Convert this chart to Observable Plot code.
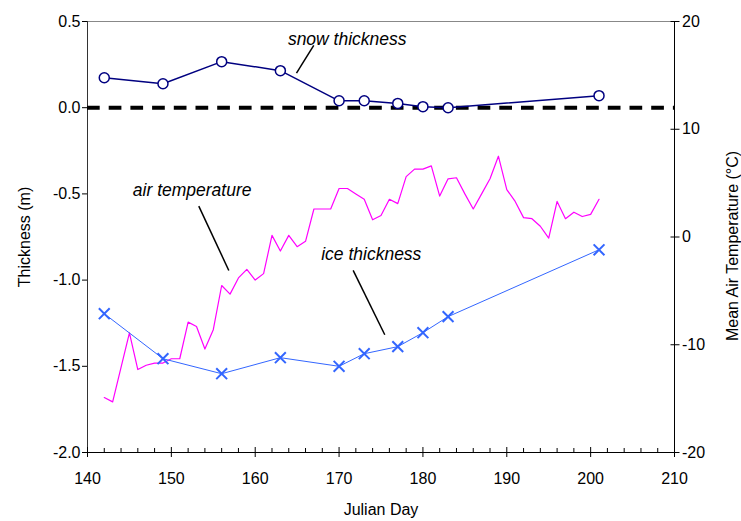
<!DOCTYPE html>
<html><head><meta charset="utf-8">
<script src="https://cdn.jsdelivr.net/npm/d3@7"></script>
<script src="https://cdn.jsdelivr.net/npm/@observablehq/plot@0.6"></script>
<style>body{margin:0;background:#fff}</style>
</head><body><div id="chart"></div>
<script>
// Measurement days (snow & ice)
const measureDays = [142,149,156,163,170,173,177,180,183,201];
const snowThickness = [0.174,0.139,0.267,0.215,0.04,0.04,0.025,0.006,0.0,0.07];
const iceThickness = [-1.195,-1.456,-1.543,-1.45,-1.50,-1.427,-1.386,-1.305,-1.212,-0.824];

// Daily mean air temperature (°C)
const tempDays = [142,143,144,145,146,147,148,149,150,151,152,153,154,155,156,157,158,159,160,161,
  162,163,164,165,166,167,168,169,170,171,172,173,174,175,176,177,178,179,180,181,
  182,183,184,185,186,187,188,189,190,191,192,193,194,195,196,197,198,199,200,201];
const airTemp = [-14.9,-15.3,-12.1,-8.9,-12.3,-11.9,-11.7,-11.7,-11.3,-11.3,-7.9,-8.3,-10.4,-8.6,-4.5,-5.3,-3.8,-3.0,-4.0,-3.4,
  0.15,-1.3,0.15,-0.9,-0.4,2.6,2.6,2.6,4.5,4.5,4.0,3.5,1.6,2.0,3.5,3.1,5.6,6.3,6.3,6.6,
  3.8,5.4,5.5,4.0,2.6,4.0,5.4,7.5,4.4,3.3,1.8,1.7,1.0,-0.1,3.3,1.7,2.3,1.9,2.1,3.5];

// Tick labels
const xMajorTicks = [140,150,160,170,180,190,200,210];
const xMinorTicks = [142,144,146,148,152,154,156,158,162,164,166,168,172,174,176,178,182,184,186,188,192,194,196,198,202,204,206,208];
const leftTicks = [-2.0,-1.5,-1.0,-0.5,0.0,0.5];
const rightTicks = [-20,-10,0,10,20];

// Annotation labels
const annotationLabels = ["snow thickness","air temperature","ice thickness"];

// temperature (-20..20) mapped onto thickness axis (-2..0.5)
const toY = t => -2 + (t + 20) / 16;
const fromY = v => (v + 2) * 16 - 20;

const snow = measureDays.map((d,i)=>({day:d, v:snowThickness[i]}));
const ice = measureDays.map((d,i)=>({day:d, v:iceThickness[i]}));
const temp = tempDays.map((d,i)=>({day:d, t:airTemp[i]}));

const annotations = [
  {label: annotationLabels[0], x: 170.97, y: 0.398},
  {label: annotationLabels[1], x: 152.48, y: -0.478},
  {label: annotationLabels[2], x: 173.84, y: -0.849}
];
const leaders = [
  {x1:166.98, y1:0.361, x2:164.92, y2:0.20},
  {x1:153.27, y1:-0.571, x2:156.85, y2:-0.944},
  {x1:171.68, y1:-0.944, x2:175.45, y2:-1.317}
];

const font = "'Liberation Sans', Arial, Helvetica, sans-serif";

const chart = Plot.plot({
  width: 741, height: 521,
  marginLeft: 87, marginRight: 67, marginTop: 21, marginBottom: 69,
  style: {fontFamily: font, fontSize: "16px", color: "black", background: "white"},
  x: {domain: [140, 210]},
  y: {domain: [-2, 0.5]},
  marks: [
    Plot.ruleY([0.5], {stroke: "#888"}),
    Plot.ruleX([140], {stroke: "#333"}),
    Plot.ruleX([210], {stroke: "black"}),
    Plot.ruleY([-2], {stroke: "black"}),
    Plot.axisY(leftTicks, {anchor: "left", tickSize: 5, tickPadding: 2, tickFormat: d => d.toFixed(1), label: null}),
    Plot.axisY(rightTicks.map(toY), {anchor: "right", tickSize: 9, insetRight: 4.5, tickPadding: 3, tickFormat: v => String(Math.round(fromY(v))), label: null}),
    Plot.axisX(xMajorTicks, {anchor: "bottom", tickSize: 10, insetBottom: 5, tickPadding: 15, tickFormat: d => String(d), label: null}),
    Plot.axisX(xMinorTicks, {anchor: "bottom", tickSize: 4, insetBottom: 4, tickPadding: 0, tickFormat: () => "", label: null}),
    Plot.text(["Thickness (m)"], {text: d => d, frameAnchor: "left", textAnchor: "middle", lineAnchor: "middle", dx: -63, rotate: -90, fontSize: 16}),
    Plot.text(["Mean Air Temperature (°C)"], {text: d => d, frameAnchor: "right", textAnchor: "middle", lineAnchor: "middle", dx: 58, dy: 9, rotate: -90, fontSize: 16}),
    Plot.text(["Julian Day"], {text: d => d, frameAnchor: "bottom", textAnchor: "middle", lineAnchor: "middle", dy: 57.5, fontSize: 16}),
    Plot.line(temp, {x: "day", y: d => toY(d.t), stroke: "#ff00ff", strokeWidth: 1.2}),
    Plot.line(ice, {x: "day", y: "v", stroke: "#3366ff", strokeWidth: 1}),
    Plot.dot(ice, {x: "day", y: "v", symbol: "times", r: 5, stroke: "#3366ff", strokeWidth: 2}),
    Plot.ruleY([0], {stroke: "black", strokeWidth: 4, strokeDasharray: "12.7,9"}),
    Plot.line(snow, {x: "day", y: "v", stroke: "#000080", strokeWidth: 1.5}),
    Plot.dot(snow, {x: "day", y: "v", r: 5, fill: "white", stroke: "#000080", strokeWidth: 1.5}),
    Plot.link(leaders, {x1: "x1", y1: "y1", x2: "x2", y2: "y2", stroke: "black", strokeWidth: 1.5}),
    Plot.text(annotations, {x: "x", y: "y", text: "label", fontStyle: "italic", fontSize: 17.5})
  ]
});
document.getElementById("chart").appendChild(chart);
</script>
</body></html>
